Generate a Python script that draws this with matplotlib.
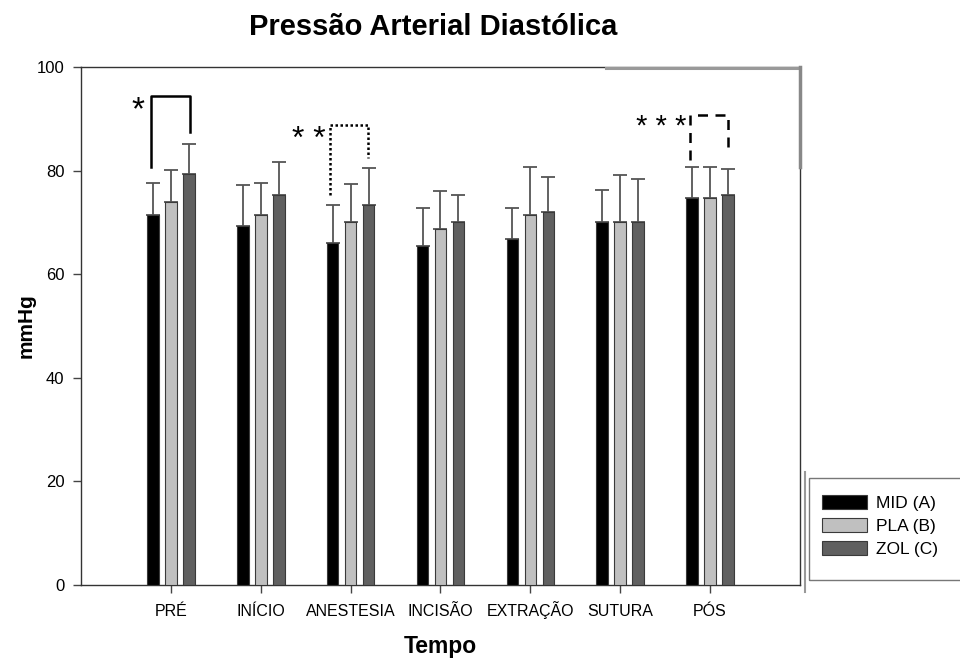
import matplotlib
matplotlib.use("Agg")
import matplotlib.pyplot as plt
from matplotlib.patches import Rectangle
from matplotlib import font_manager
import numpy as np

plt.rcParams['font.family'] = ['Liberation Sans', 'DejaVu Sans']
names = {f.name for f in font_manager.fontManager.ttflist}
narrow = 'Liberation Sans Narrow' if 'Liberation Sans Narrow' in names else 'Liberation Sans'

categories = ["PRÉ", "INÍCIO", "ANESTESIA", "INCISÃO", "EXTRAÇÃO", "SUTURA", "PÓS"]
series_names = ["MID (A)", "PLA (B)", "ZOL (C)"]
mid_mean = [71.4, 69.3, 66.0, 65.4, 66.8, 70.0, 74.8]
mid_err = [6.3, 7.9, 7.3, 7.4, 6.0, 6.3, 5.8]
pla_mean = [74.0, 71.4, 70.1, 68.7, 71.4, 70.0, 74.8]
pla_err = [6.2, 6.3, 7.4, 7.4, 9.2, 9.2, 5.8]
zol_mean = [79.4, 75.3, 73.4, 70.1, 72.0, 70.0, 75.3]
zol_err = [5.8, 6.4, 7.1, 5.2, 6.8, 8.4, 5.1]
yticks = [0, 20, 40, 60, 80, 100]

colors = ["#000000", "#c0c0c0", "#606060"]

fig = plt.figure(figsize=(9.6, 6.59), dpi=100)
ax = fig.add_axes([81/960, 1-585/659, (800-81)/960, (585-67)/659])

x = np.arange(len(categories))
offsets = [-0.2, 0.0, 0.2]
width = 0.13
handles = []
for means, errs, col, off, name in zip([mid_mean, pla_mean, zol_mean],
                                        [mid_err, pla_err, zol_err],
                                        colors, offsets, series_names):
    b = ax.bar(x + off, means, width, color=col, edgecolor="#3a3a3a", linewidth=0.8,
               label=name, zorder=3)
    handles.append(b)
    ax.errorbar(x + off, means, yerr=[np.zeros(len(errs)), errs], fmt='none',
                ecolor="#555555", elinewidth=1.3, capsize=5, capthick=1.3, zorder=2)

ax.set_xlim(-1, 7)
ax.set_ylim(0, 100)
ax.set_yticks(yticks)
ax.set_xticks(x)
ax.set_xticklabels(categories, fontsize=11.5, family=[narrow, 'DejaVu Sans'], va='baseline')
ax.tick_params(axis='y', labelsize=12, direction='out', length=6, width=1, color="#444444", pad=6)
ax.tick_params(axis='x', direction='out', length=6, width=1, color="#444444", pad=16.5)
for s in ax.spines.values():
    s.set_color("#333333")
    s.set_linewidth(1.0)

# odd thicker grey frame segment at top right
ax.plot([4.84, 7], [99.8, 99.8], color="#999999", lw=2.2, clip_on=False, zorder=5)
ax.plot([7, 7], [80.7, 100], color="#888888", lw=2.5, clip_on=False, zorder=5)

# significance brackets
# PRÉ, solid
ax.plot([-0.22, -0.22, 0.21, 0.21], [80.6, 94.4, 94.4, 87.5], color="black", lw=1.8, zorder=4)
ax.text(-0.37, 91.5, "*", fontsize=24, ha='center', va='center')
# ANESTESIA, dotted
ax.plot([1.77, 1.77, 2.19, 2.19], [75.3, 88.8, 88.8, 82.4], color="black", lw=1.8,
        linestyle=(0, (1, 1)), zorder=4)
ax.text(1.53, 85.9, "* *", fontsize=23, ha='center', va='center')
# PÓS, dashed
ax.plot([5.78, 5.78, 6.2, 6.2], [82.0, 90.7, 90.7, 83.3], color="black", lw=1.8,
        linestyle=(0, (4, 3)), zorder=4)
ax.text(5.45, 88.4, "* * *", fontsize=21, ha='center', va='center')

ax.set_ylabel("mmHg", fontsize=15, fontweight='bold', labelpad=1)
ax.set_xlabel("Tempo", fontsize=16.5, fontweight='bold', labelpad=11)
fig.text(433/960, 1-27/659, "Pressão Arterial Diastólica", fontsize=21, fontweight='bold',
         ha='center', va='center')

# legend (frame drawn manually, extends past figure edge as in reference)
leg = fig.legend(handles=handles, labels=series_names, loc='upper left',
                 bbox_to_anchor=(822/960, 1-495/659), fontsize=12.5,
                 frameon=False, handlelength=2.6, handleheight=0.9,
                 borderpad=0.0, labelspacing=0.38, handletextpad=0.5, borderaxespad=0)
fig.add_artist(Rectangle((809/960, 1-580/659), 160/960, 102/659, transform=fig.transFigure,
                         fill=False, edgecolor="#777777", lw=1.0, clip_on=False))
fig.add_artist(plt.Line2D([805/960, 805/960], [1-472/659, 1-592/659], color="#999999", lw=1.5))

fig.savefig("out.png", dpi=100)
